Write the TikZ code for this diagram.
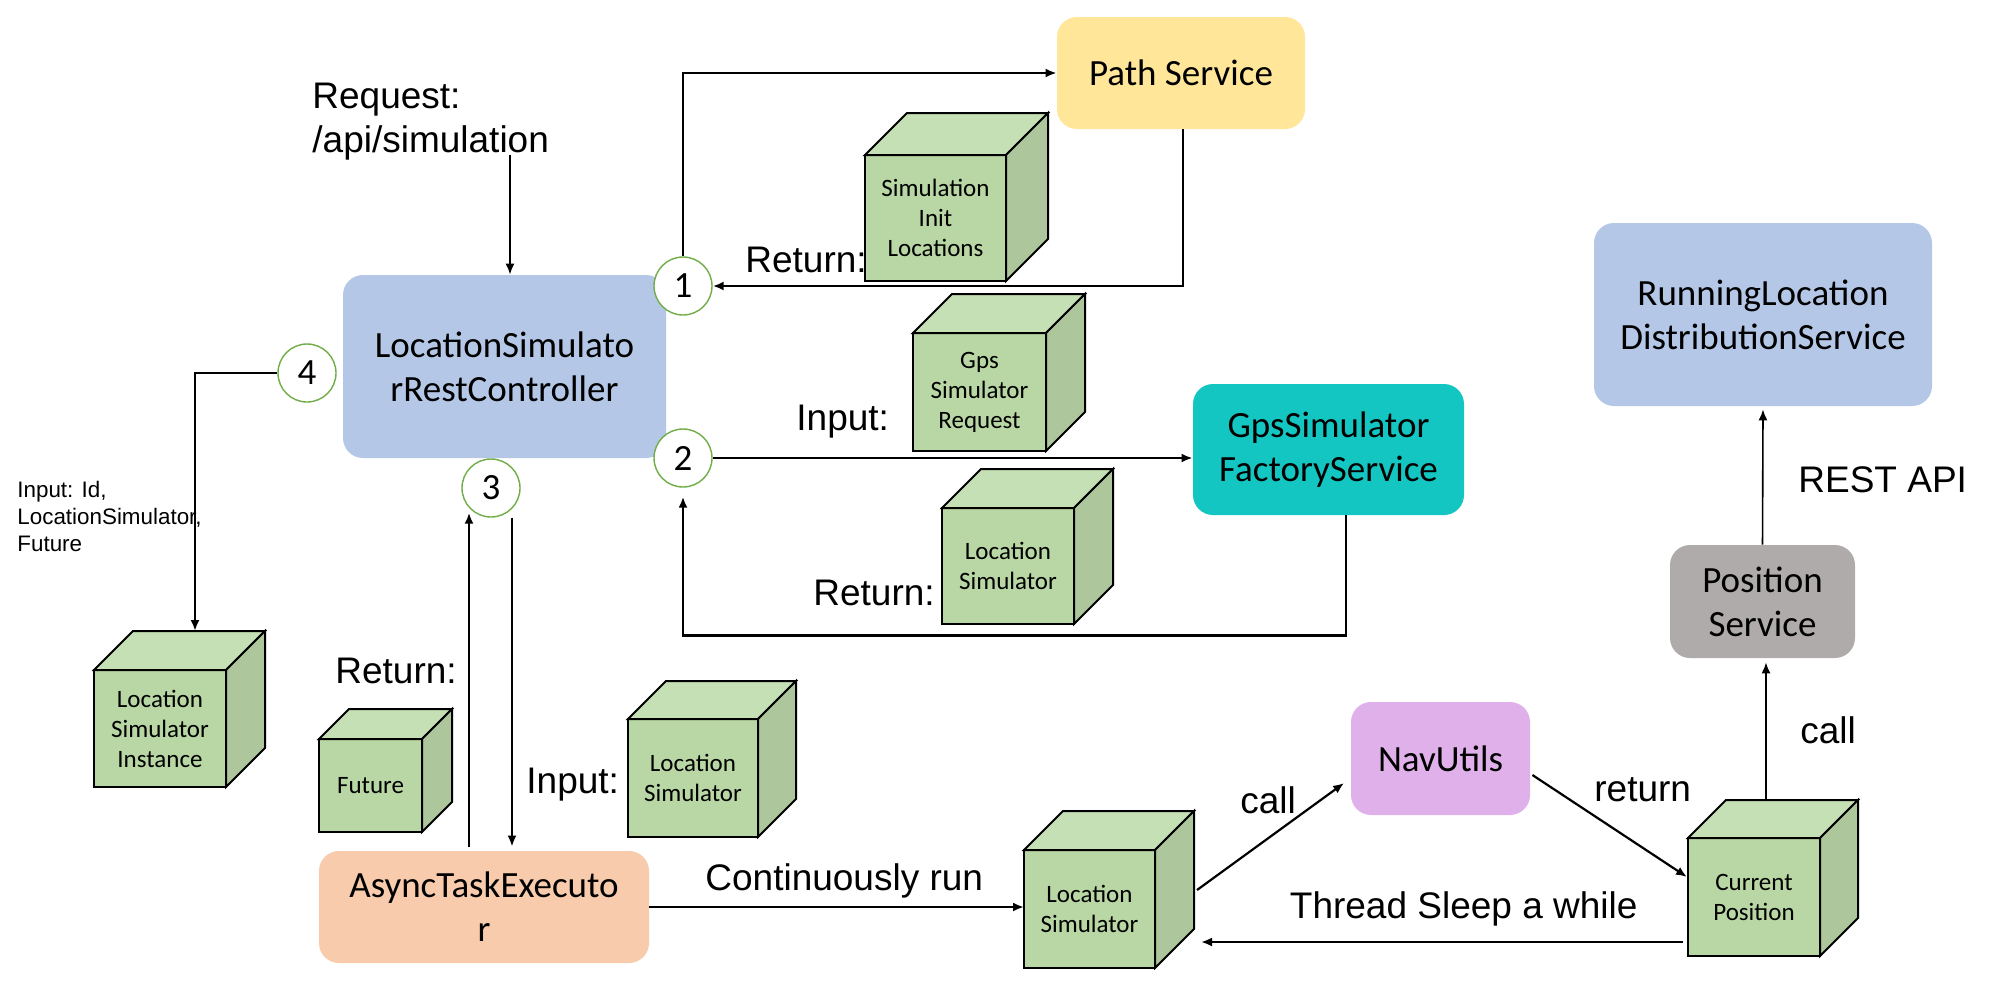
\documentclass[tikz,border=0pt]{standalone}
\usepackage{fontspec}
\setmainfont{Carlito}
\newfontfamily\arialf{Liberation Sans}
\usetikzlibrary{arrows.meta,calc}
\definecolor{ctrlblue}{RGB}{180,199,231}
\definecolor{pathyellow}{RGB}{255,230,153}
\definecolor{tealbox}{RGB}{20,198,194}
\definecolor{greyps}{RGB}{175,171,171}
\definecolor{navpink}{RGB}{224,176,234}
\definecolor{asyncorange}{RGB}{248,203,173}
\definecolor{cubefrontc}{RGB}{185,215,164}
\definecolor{cubetopc}{RGB}{198,224,181}
\definecolor{cubesidec}{RGB}{173,198,156}
\definecolor{circgreen}{RGB}{112,173,71}
% name, cx, cy, w, h, depth, text
\newcommand{\mycube}[7]{%
  \node[cubefront, minimum width={#4*0.5pt}, minimum height={#5*0.5pt}] (#1) at (#2,#3) {#7};
  \draw[cubeedge, fill=cubetopc] (#1.north west) -- ++(#6,-#6) -- ++(#4,0) -- (#1.north east) -- cycle;
  \draw[cubeedge, fill=cubesidec] (#1.north east) -- ++(#6,-#6) -- ++(0,#5) -- (#1.south east) -- cycle;
}
\begin{document}
\begin{tikzpicture}[x=0.5pt,y=-0.5pt,
  box/.style={rounded corners=10pt, inner sep=0pt, align=center, font=\fontsize{18.5}{22}\selectfont},
  cubefront/.style={draw=black, line width=1pt, fill=cubefrontc, inner sep=0pt, outer sep=0pt, align=center, font=\fontsize{12.5}{15}\selectfont},
  cubeedge/.style={draw=black, line width=1pt, line join=miter},
  numc/.style={circle, draw=circgreen, line width=0.7pt, fill=white, minimum size=29pt, inner sep=0pt, font=\fontsize{18.5}{22}\selectfont},
  lbl/.style={anchor=base west, inner sep=0pt, font=\arialf\fontsize{18.5}{22}\selectfont},
  smalltxt/.style={anchor=base west, inner sep=0pt, font=\arialf\fontsize{11.2}{13.5}\selectfont},
  arr/.style={line width=1.1pt, -{Latex[length=5.5pt,width=4.5pt]}},
  tarr/.style={line width=0.8pt, -{Latex[length=5.5pt,width=4.5pt]}},
]
\useasboundingbox (0,0) rectangle (1991,997);
\fill[white] (0,0) rectangle (1991,997);

% labels
\node[lbl] (lreq1) at (312,108) {Request:};
\node[lbl] (lreq2) at (312,152) {/api/simulation};
\node[lbl] (lret1) at (745,272) {Return:};
\node[lbl] (lin1) at (796,430) {Input:};
\node[lbl] (lret2) at (813,605) {Return:};
\node[lbl] (lret3) at (335,683) {Return:};
\node[lbl] (lin2) at (526,793) {Input:};
\node[lbl] (lcont) at (705,890) {Continuously run};
\node[lbl] (lcall1) at (1240,813) {call};
\node[lbl] (lreturn) at (1594,801) {return};
\node[lbl] (lsleep) at (1289.5,918) {Thread Sleep a while};
\node[lbl] (lcall2) at (1800,743) {call};
\node[lbl] (lrest) at (1798,492) {REST API};
\node[smalltxt] (s1) at (17,497) {Input: Id,};
\node[smalltxt] (s2) at (17,524) {LocationSimulator,};
\node[smalltxt] (s3) at (17,551) {Future};

% boxes
\node[box, fill=ctrlblue, minimum width=161.5pt, minimum height=91.5pt] (ctrl) at (504.5,366.5) {LocationSimulato\\rRestController};
\node[box, fill=pathyellow, minimum width=124pt, minimum height=56pt] (path) at (1181,73) {Path Service};
\node[box, fill=tealbox, minimum width=135.5pt, minimum height=65.5pt] (gps) at (1328.5,449.5) {GpsSimulator\\FactoryService};
\node[box, fill=ctrlblue, minimum width=169pt, minimum height=91.5pt] (run) at (1763,314.5) {RunningLocation\\DistributionService};
\node[box, fill=greyps, minimum width=92.5pt, minimum height=56.5pt] (ps) at (1762.5,601.5) {Position\\Service};
\node[box, fill=navpink, minimum width=89.5pt, minimum height=56.5pt] (nav) at (1440.5,758.5) {NavUtils};
\node[box, fill=asyncorange, minimum width=165pt, minimum height=56pt] (async) at (484,907) {AsyncTaskExecuto\\r};

% cubes
\mycube{sim}{935.5}{218}{141}{126}{42}{Simulation\\Init\\Locations}
\mycube{gpsreq}{979.5}{392}{133}{118}{39}{Gps\\Simulator\\Request}
\mycube{locup}{1008}{566}{132}{116}{39}{Location\\Simulator}
\mycube{inst}{160}{728.5}{132}{117}{39}{Location\\Simulator\\Instance}
\mycube{fut}{370.5}{785.5}{103}{93}{30}{Future}
\mycube{locin}{693}{778}{130}{118}{38}{Location\\Simulator}
\mycube{loclow}{1089.5}{909}{131}{118}{39}{Location\\Simulator}
\mycube{cur}{1754}{897}{132}{118}{38}{Current\\Position}

% numbered circles
\node[numc] (c1) at (683,286) {1};
\node[numc] (c2) at (683,458) {2};
\node[numc] (c3) at (491,488) {3};
\node[numc] (c4) at (307,373) {4};

% connectors
\draw[tarr] ($(ctrl.north)+(5.5,-120)$) -- ($(ctrl.north)+(5.5,0)$);
\draw[arr] (c1.north) |- (path.west);
\draw[arr] ($(path.south)+(2,0)$) |- (c1.east);
\draw[arr] (c2.east) -- (c2.east -| gps.west);
\draw[arr, shorten >=4.5pt] ($(gps.south)+(17.5,0)$) -- ++(0,120) -| (c2.south);
\draw[arr] ($(async.north)+(-15,-4)$) -- ($(c3.south)+(-22,-5)$);
\draw[arr] ($(c3.south)+(21,0)$) -- ($(async.north)+(28,-4)$);
\draw[arr] (c4.west) -| ($(inst.north)+(35,-39)$);
\draw[arr] (async.east) -- (async.east -| loclow.west);
\draw[arr] ($(loclow.east)+(42,-19)$) -- ($(nav.west)+(-6.5,24.5)$);
\draw[arr] ($(nav.east)+(2,16.5)$) -- ($(cur.west)+(-1,-20)$);
\draw[arr] ($(cur.west)+(-5,45)$) -- ($(loclow.east)+(46,33)$);
\draw[tarr] ($(cur.north)+(12,-39)$) -- ($(ps.south)+(3.5,4)$);
\draw[tarr] (ps.north) -- ($(run.south)+(0,3)$);
\end{tikzpicture}
\end{document}
